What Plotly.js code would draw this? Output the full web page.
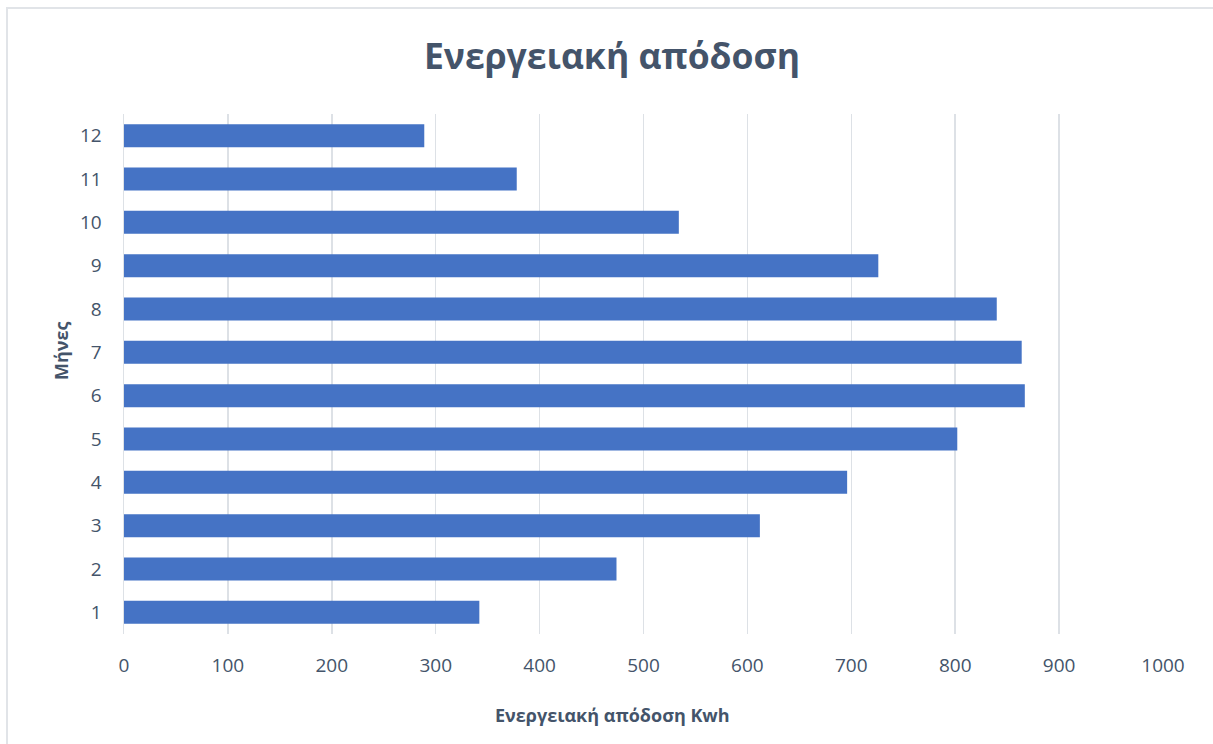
<!DOCTYPE html>
<html>
<head>
<meta charset="utf-8">
<script src="https://cdn.plot.ly/plotly-3.0.1.min.js"></script>
<style>
html,body{margin:0;padding:0;background:#fff;}
#chart{width:1213px;height:744px;}
#frame{position:absolute;left:6px;top:7px;width:1230px;height:760px;border:2px solid #E1E4E8;pointer-events:none;}
</style>
</head>
<body>
<div id="chart"></div>
<div id="frame"></div>
<script>
const months = ["1","2","3","4","5","6","7","8","9","10","11","12"];
const energy = [342, 474, 612, 696, 802, 867, 864, 840, 726, 534, 378, 289];
const xTicks = [0,100,200,300,400,500,600,700,800,900,1000];

const textColor = "#44546A";
const font = "Open Sans, Noto Sans, sans-serif";

const trace = {
  type: "bar",
  orientation: "h",
  y: months,
  x: energy,
  marker: {color: "#4573C5", line: {width: 0}},
  hoverinfo: "x+y"
};

const W = 1213, H = 744;
const M = {l: 124, r: 50, t: 114, b: 110};
const pw = W - M.l - M.r, ph = H - M.t - M.b;

const layout = {
  width: W, height: H,
  margin: M,
  paper_bgcolor: "#fff",
  plot_bgcolor: "#fff",
  bargap: 0.47,
  showlegend: false,
  title: {
    text: "<b>Ενεργειακή απόδοση</b>",
    font: {family: font, size: 35.5, color: textColor},
    x: 612 / W, xanchor: "center", y: 1 - 57 / H, yanchor: "middle"
  },
  xaxis: {
    range: [0, 1000],
    tickvals: xTicks,
    ticktext: xTicks.map(String),
    showgrid: true,
    gridcolor: "#DDE1E6",
    gridwidth: 1.5,
    zeroline: false,
    showline: false,
    ticks: "",
    ticklabelstandoff: 18,
    tickfont: {family: font, size: 19, color: textColor}
  },
  yaxis: {
    type: "category",
    categoryorder: "array",
    categoryarray: months,
    showgrid: false,
    zeroline: false,
    showline: true,
    linecolor: "#DDE1E6",
    linewidth: 1.5,
    ticks: "",
    ticklabelstandoff: 17,
    tickfont: {family: font, size: 19, color: textColor}
  },
  annotations: [
    {
      text: "<b>Ενεργειακή απόδοση Kwh</b>",
      xref: "paper", yref: "paper",
      x: (612 - M.l) / pw, y: -(715 - (H - M.b)) / ph,
      xanchor: "center", yanchor: "middle",
      showarrow: false,
      font: {family: font, size: 18, color: textColor}
    },
    {
      text: "<b>Μήνες</b>",
      xref: "paper", yref: "paper",
      x: -(M.l - 61) / pw, y: (H - M.b - 351) / ph,
      xanchor: "center", yanchor: "middle",
      textangle: -90,
      showarrow: false,
      font: {family: font, size: 18, color: textColor}
    }
  ]
};

Plotly.newPlot("chart", [trace], layout, {displayModeBar: false, staticPlot: true});
</script>
</body>
</html>
